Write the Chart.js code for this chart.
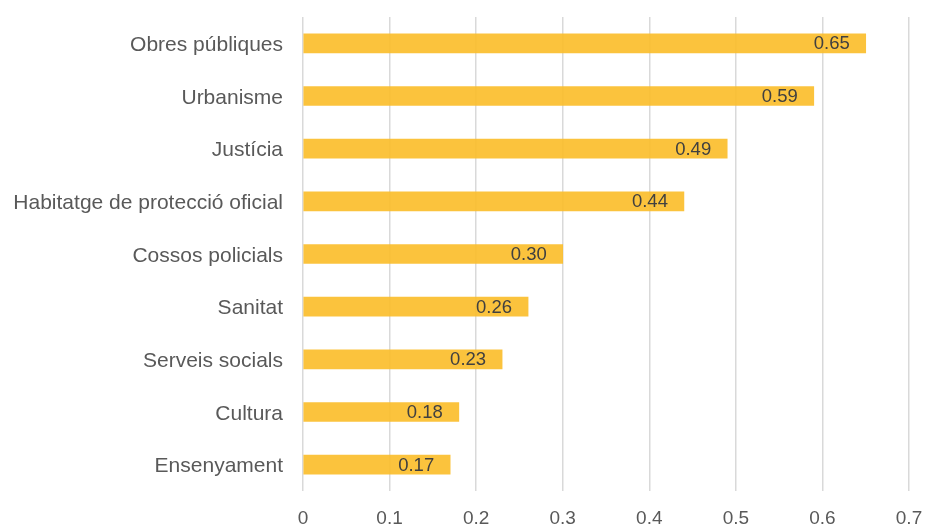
<!DOCTYPE html>
<html>
<head>
<meta charset="utf-8">
<script src="https://cdn.jsdelivr.net/npm/chart.js@4/dist/chart.umd.min.js"></script>
<style>
  html, body { margin: 0; padding: 0; background: #fff; overflow: hidden; }
  #grafic { display: block; }
</style>
</head>
<body>
<canvas id="grafic" width="926" height="540"></canvas>
<script>
// Dades del gràfic
const categories = [
  'Obres públiques',
  'Urbanisme',
  'Justícia',
  'Habitatge de protecció oficial',
  'Cossos policials',
  'Sanitat',
  'Serveis socials',
  'Cultura',
  'Ensenyament'
];
const valors = [0.65, 0.59, 0.49, 0.44, 0.30, 0.26, 0.23, 0.18, 0.17];
const ticksEix = [0, 0.1, 0.2, 0.3, 0.4, 0.5, 0.6, 0.7];

const FONT = '"Liberation Sans", Arial, sans-serif';

// etiquetes de valor dins l'extrem de cada barra
const etiquetesValor = {
  id: 'etiquetesValor',
  afterDatasetsDraw(chart) {
    const ctx = chart.ctx;
    const meta = chart.getDatasetMeta(0);
    ctx.save();
    ctx.font = '18.5px ' + FONT;
    ctx.fillStyle = '#404040';
    ctx.textAlign = 'right';
    ctx.textBaseline = 'middle';
    meta.data.forEach((barra, i) => {
      ctx.fillText(valors[i].toFixed(2), barra.x - 16, barra.y + 1);
    });
    ctx.restore();
  }
};

// sense marges extra pels textos dels extrems: el layout ja els dona
function senseMarges(scale) {
  scale.paddingTop = 0;
  scale.paddingBottom = 0;
  scale.paddingLeft = 0;
  scale.paddingRight = 0;
}

new Chart(document.getElementById('grafic'), {
  type: 'bar',
  data: {
    labels: categories,
    datasets: [{
      data: valors,
      backgroundColor: 'rgba(251,188,40,0.9)',
      borderWidth: 0,
      barThickness: 19
    }]
  },
  options: {
    indexAxis: 'y',
    responsive: false,
    animation: false,
    layout: { padding: { top: 17, left: 0, right: 17, bottom: 0 } },
    plugins: {
      legend: { display: false },
      tooltip: { enabled: false }
    },
    scales: {
      x: {
        min: 0,
        max: 0.7,
        afterBuildTicks(scale) {
          scale.ticks = ticksEix.map(v => ({ value: v }));
        },
        afterFit(scale) {
          senseMarges(scale);
          scale.height = 49;
        },
        ticks: {
          color: '#595959',
          font: { family: FONT, size: 19 },
          padding: 16,
          callback: v => String(Math.round(v * 10) / 10)
        },
        grid: { color: '#d9d9d9', lineWidth: 1.5, drawTicks: false },
        border: { display: false }
      },
      y: {
        afterFit(scale) {
          senseMarges(scale);
          scale.width = 303;
        },
        ticks: {
          color: '#595959',
          font: { family: FONT, size: 21 },
          padding: 20,
          labelOffset: 2
        },
        grid: { display: false, drawTicks: false },
        border: { display: false }
      }
    }
  },
  plugins: [etiquetesValor]
});
</script>
</body>
</html>
